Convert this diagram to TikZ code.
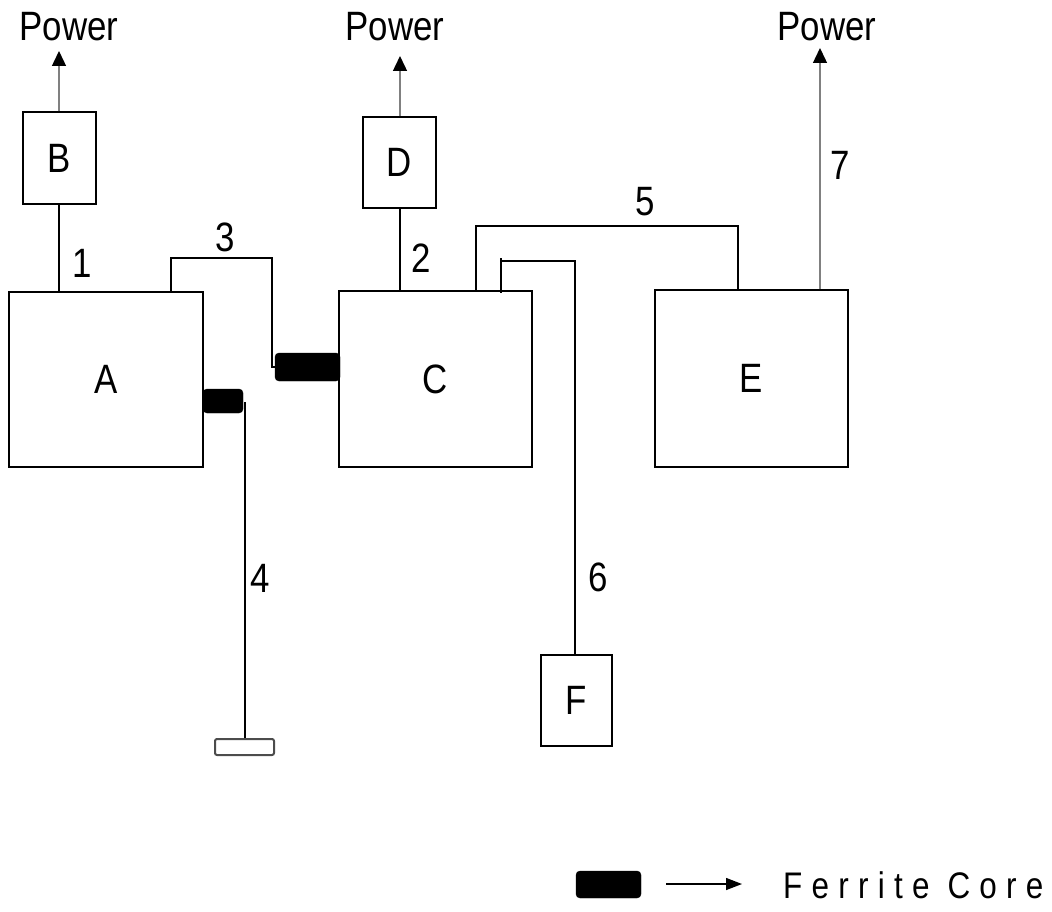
\documentclass[tikz,border=0pt]{standalone}
\usepackage{fontspec}
\usetikzlibrary{arrows.meta}
\newfontfamily\lblfont[FakeStretch=0.85]{Liberation Sans}
\newfontfamily\legendfont[FakeStretch=0.85,LetterSpace=25]{Liberation Sans}
\tikzset{
  unit/.style={draw=black, line width=1.4pt, inner sep=0pt},
  wire/.style={draw=black, line width=1.4pt},
  feed/.style={draw=black!50, line width=1.4pt, -{Triangle[length=15pt,width=14pt,fill=black,color=black]}},
  core/.style={fill=black, draw=black, rounded corners=4pt, inner sep=0pt},
  term/.style={draw=black!70, line width=2pt, rounded corners=2pt, fill=white, inner sep=0pt},
  lbl/.style={font=\lblfont\fontsize{41}{41}\selectfont, inner sep=0pt},
}
\begin{document}
\begin{tikzpicture}[x=1pt,y=-1pt]
\useasboundingbox (0,0) rectangle (1052,912);

% equipment units
\node[unit, minimum width=194pt, minimum height=175pt] (A) at (106,379.5) {};
\node[unit, minimum width=73pt, minimum height=92pt] (B) at (59.5,158) {};
\node[unit, minimum width=193pt, minimum height=176pt] (C) at (435.5,379) {};
\node[unit, minimum width=73pt, minimum height=91pt] (D) at (399.5,162.5) {};
\node[unit, minimum width=193pt, minimum height=177pt] (E) at (751.5,378.5) {};
\node[unit, minimum width=71pt, minimum height=91pt] (F) at (576.5,700.5) {};

\node[lbl] (tA) at (A) {A};
\node[lbl] (tB) at (B) {B};
\node[lbl] (tC) at (C) {C};
\node[lbl] (tD) at (D) {D};
\node[lbl] (tE) at (E) {E};
\node[lbl] (tF) at (F) {F};

% ferrite cores and the cable end
\node[core, minimum width=65pt, minimum height=28pt] (fc1) at (307.5,367) {};
\node[core, minimum width=40pt, minimum height=24pt] (fc2) at (223,401) {};
\node[term, minimum width=59pt, minimum height=16pt] (end4) at (244.5,747) {};

% power feeds
\node[lbl] (pB) at (69,27) {Power};
\node[lbl] (pD) at (395,27) {Power};
\node[lbl] (pE) at (827,27) {Power};
\coordinate (tipB) at (59,51);
\coordinate (tipD) at (400,56);
\coordinate (tipE) at (820,48);
\draw[feed] (B.north -| tipB) -- (tipB);
\draw[feed] (D.north -| tipD) -- (tipD);
\draw[feed] (E.north -| tipE) -- (tipE);

% cables
\draw[wire] (B.south -| tipB) -- (tipB |- A.north);
\draw[wire] (D.south -| tipD) -- (tipD |- C.north);
\coordinate (c3) at (171,258);
\draw[wire] (c3 |- A.north) -- (c3) -- (272,258) -- (272,367) -- (fc1.west);
\coordinate (c4) at (245,402);
\draw[wire] (c4) -- (c4 |- end4.north);
\coordinate (c5) at (476,226);
\coordinate (c5e) at (738,226);
\draw[wire] (c5 |- C.north) -- (c5) -- (c5e) -- (c5e |- E.north);
\coordinate (c6) at (501,261);
\coordinate (c6f) at (575,261);
\draw[wire] (501,258) -- (501,293);
\draw[wire] (c6) -- (c6f) -- (c6f |- F.north);

% cable numbers
\node[lbl] (n1) at (82,263) {1};
\node[lbl] (n2) at (421,258) {2};
\node[lbl] (n3) at (225,237) {3};
\node[lbl] (n4) at (260,578) {4};
\node[lbl] (n5) at (645,202) {5};
\node[lbl] (n6) at (598,577) {6};
\node[lbl] (n7) at (840,165) {7};

% legend
\node[core, minimum width=65pt, minimum height=27pt] (fcL) at (608.5,884.5) {};
\coordinate (legA) at (666,884);
\coordinate (legB) at (742,884);
\draw[wire, -{Triangle[length=16pt,width=12pt]}] (legA) -- (legB);
\node[font=\legendfont\fontsize{37}{37}\selectfont, inner sep=0pt, anchor=west] (legT) at (783,885) {Ferrite Core};
\end{tikzpicture}
\end{document}
